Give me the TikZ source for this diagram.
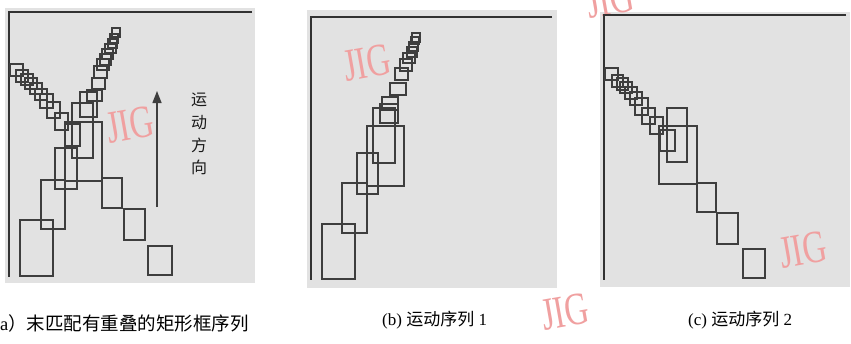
\documentclass[tikz,border=0pt]{standalone}
\usepackage{fontspec}
\setmainfont{Liberation Serif}
\newfontfamily\cjk{Noto Sans CJK SC}
\usetikzlibrary{arrows.meta}
\definecolor{bgc}{RGB}{226,226,226}
\definecolor{boxc}{RGB}{62,62,62}
\definecolor{brdc}{RGB}{50,50,50}
\definecolor{wmc}{RGB}{240,160,160}
\begin{document}
\begin{tikzpicture}[x=1pt,y=-1pt,
  panelbg/.style={fill=bgc,draw=none},
  bbox/.style={draw=boxc,line width=1.5pt},
  frameline/.style={draw=brdc,line width=2.8pt,line join=miter},
  wm/.style={text=wmc,font=\fontsize{46}{46}\selectfont,inner sep=0pt},
  captext/.style={font=\fontsize{17}{19}\selectfont,inner sep=0pt,anchor=west},
  dirtext/.style={font=\cjk\fontsize{16}{22.7}\selectfont,align=center,inner sep=0pt,text=black!90},
  motionarrow/.style={draw=boxc,line width=1.4pt,-{Triangle[width=9pt,length=12pt]}},
]
\useasboundingbox[fill=white] (0,0) rectangle (851,343);

% panel backgrounds
\fill[panelbg] (5,8) rectangle (255,283);
\fill[panelbg] (307,10) rectangle (557,288);
\fill[panelbg] (600,12) rectangle (850,287);

% watermarks (behind)
\node[wm,rotate=10] (wma) at (130,125) {\scalebox{0.72}[1]{JIG}};
\node[wm,rotate=10] (wmb) at (367,63) {\scalebox{0.72}[1]{JIG}};
\node[wm,rotate=10] (wmt) at (610,0) {\scalebox{0.72}[1]{JIG}};
\node[wm,rotate=10] (wmm) at (565,312) {\scalebox{0.72}[1]{JIG}};
\node[wm,rotate=10] (wmc) at (803,250) {\scalebox{0.72}[1]{JIG}};

% frames
\draw[frameline] (252,12) -- (9,12) -- (9,277);
\draw[frameline] (552,17) -- (311,17) -- (311,280);
\draw[frameline] (846,15) -- (604,15) -- (604,280);

% panel (a) boxes
\foreach \a/\b/\c/\d in {
  10/64/23/76, 16/70/28/82, 21/74/33/85, 25/78/37/89, 30/83/42/94,
  35/89/47/100, 40/94/53/108, 47/102/60/118, 55/113/68/130, 65/124/80/146,
  112/28/120/37, 110/34/118/43, 108/39/117/48, 105/44/116/53, 102/49/113/59,
  100/54/111/65, 97/59/109/70, 94/66/107/78, 92/78/105/89, 87/90/102/101,
  80/92/97/117, 72/103/93/158,
  65/122/102/181, 55/148/77/189, 41/180/65/229, 20/220/53/276,
  102/178/122/208, 124/209/145/240, 148/246/172/275}
  \draw[bbox] (\a,\b) rectangle (\c,\d);

% panel (b) boxes
\foreach \a/\b/\c/\d in {
  412/33/420/42, 411/37/419/44, 409/42/418/51, 407/47/417/57, 403/53/415/63,
  400/59/412/71, 395/68/408/80, 390/83/406/95, 382/97/398/110, 380/104/398/123,
  373/108/395/163, 367/126/404/186, 357/153/378/194, 342/183/367/233, 322/224/355/279}
  \draw[bbox] (\a,\b) rectangle (\c,\d);

% panel (c) boxes
\foreach \a/\b/\c/\d in {
  605/68/618/80, 612/75/623/87, 617/78/628/90, 620/82/632/93, 625/87/637/99,
  630/92/642/105, 635/98/648/115, 642/108/655/124, 650/117/663/134, 660/130/675/151,
  667/108/687/162, 659/126/697/184, 697/183/716/212, 717/213/738/244, 743/249/765/278}
  \draw[bbox] (\a,\b) rectangle (\c,\d);

% motion direction arrow
\coordinate (arrS) at (157,207);
\coordinate (arrE) at (157,91);
\draw[motionarrow] (arrS) -- (arrE);
\node[dirtext] (dir) at (199,134) {运\\动\\方\\向};

% captions
\node[captext,font=\fontsize{18.5}{20}\selectfont] (capa) at (0,323) {a{\cjk）末匹配有重叠的矩形框序列}};
\node[captext] (capb) at (382,320) {(b) {\cjk 运动序列} 1};
\node[captext] (capc) at (688,320) {(c) {\cjk 运动序列} 2};
\end{tikzpicture}
\end{document}
